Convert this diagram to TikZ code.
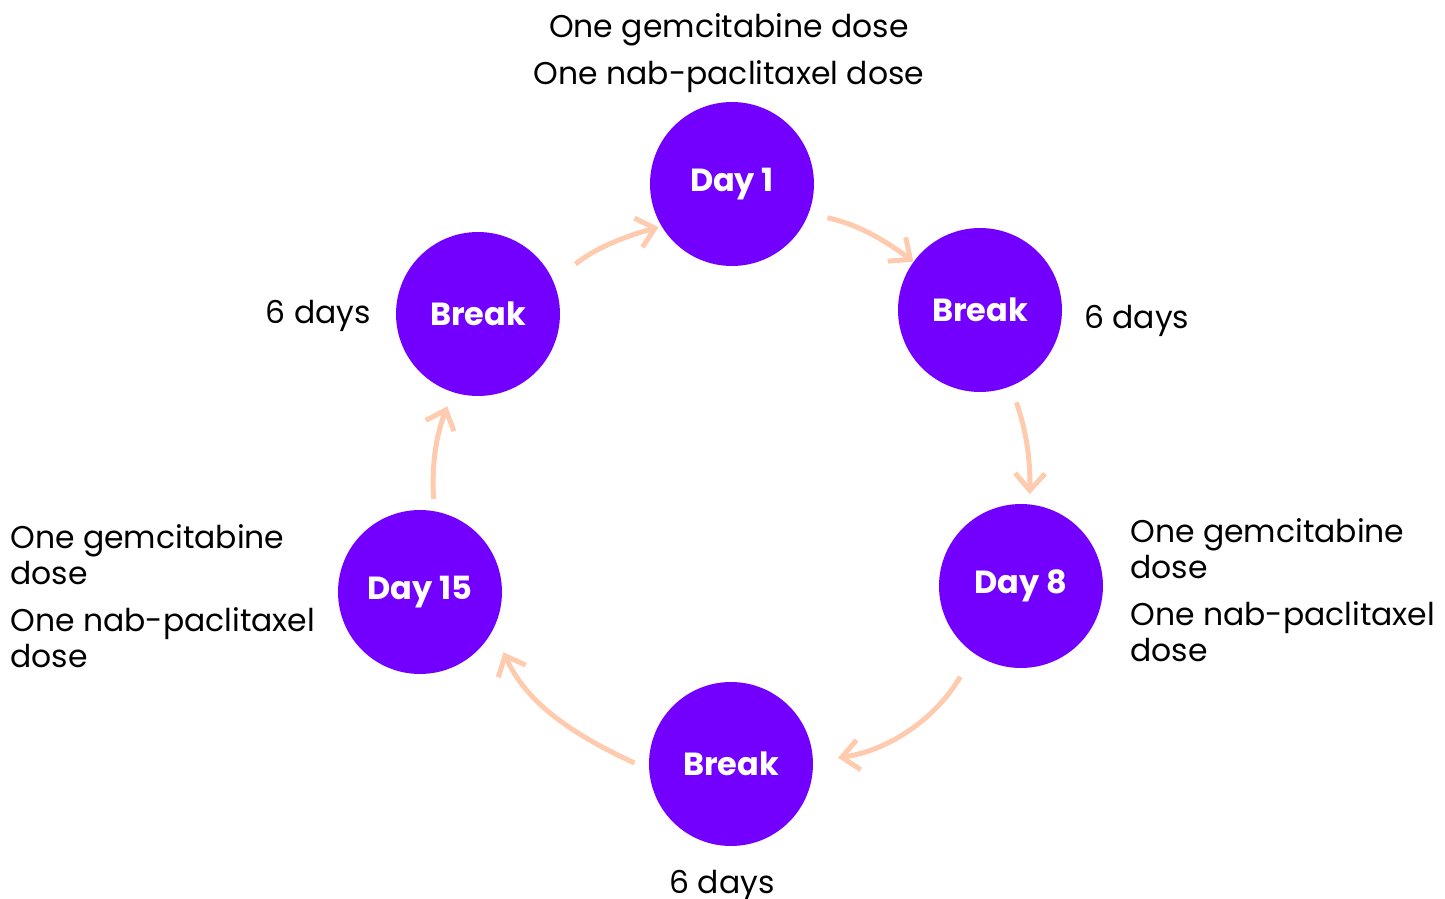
\documentclass[tikz,border=0pt]{standalone}
\usepackage{fontspec}
\setmainfont{Poppins}
\usetikzlibrary{arrows.meta}
\definecolor{dosepurple}{HTML}{7300FF}
\definecolor{flowpeach}{HTML}{FFCBAE}
\begin{document}
\begin{tikzpicture}[x=0.02cm,y=-0.02cm,
  stage/.style={circle,fill=dosepurple,minimum size=3.28cm,inner sep=0pt,text=white,font=\fontsize{18.2}{21}\selectfont\bfseries},
  flow/.style={draw=flowpeach,line width=0.1cm,-{Straight Barb[length=0.34cm,width=0.6cm]}},
  note/.style={font=\fontsize{17.9}{20.4}\selectfont,align=left,inner sep=0pt}]
  \useasboundingbox (0,0) rectangle (1445,899);
  \node[stage] (d1) at (732,184) {Day 1};
  \node[stage] (b1) at (980,310) {Break};
  \node[stage] (d8) at (1021,586) {Day 8};
  \node[stage] (b8) at (731,764) {Break};
  \node[stage] (d15) at (420,592) {Day 15};
  \node[stage] (b15) at (478,314) {Break};
  \draw[flow,shorten <=0.38cm] (d1.-21.5) to[bend left=12] (b1.144.4);
  \draw[flow,shorten <=0.34cm,shorten >=0.2cm] (b1.-68.6) to[bend left=10] (d8.84.4);
  \draw[flow,shorten <=0.54cm,shorten >=0.5cm] (d8.-125.3) to[bend left=26] (b8.2);
  \draw[flow,shorten <=0.32cm,shorten >=0.5cm] (b8.184) to[out=155,in=-66] (d15.-27);
  \draw[flow,shorten <=0.24cm,shorten >=0.3cm] (d15.80.8) to[bend left=12] (b15.-108);
  \draw[flow,shorten <=0.56cm,shorten >=0.06cm] (b15.23.2) to[bend left=12] (d1.-149);
  \node[note,align=center] (d1txt) at (729,53) {One gemcitabine dose\\[6.5pt]One nab-paclitaxel dose};
  \node[note,anchor=west] (d8txt) at (1130,590) {One gemcitabine\\dose\\[6.5pt]One nab-paclitaxel\\dose};
  \node[note,anchor=west] (d15txt) at (10,596) {One gemcitabine\\dose\\[6.5pt]One nab-paclitaxel\\dose};
  \node[note,anchor=base west] (b1txt) at (1084,328) {6 days};
  \node[note,anchor=base east] (b15txt) at (371,323) {6 days};
  \node[note,anchor=base] (b8txt) at (722,893) {6 days};
\end{tikzpicture}
\end{document}
